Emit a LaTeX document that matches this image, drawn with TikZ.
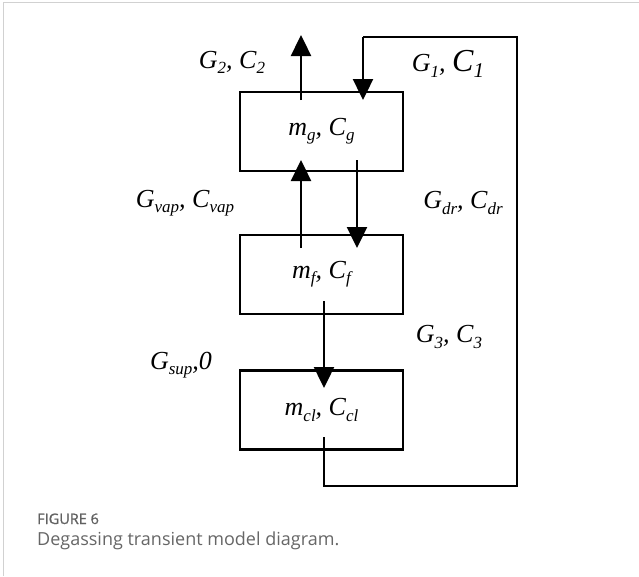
\documentclass[tikz,border=0pt]{standalone}
\usepackage{fontspec}
\setmainfont{Liberation Serif}
\newfontfamily\capfont{Open Sans}
\newfontfamily\capfontb[FakeBold=1.2]{Open Sans}
\usetikzlibrary{arrows.meta}
\newcommand\sbx[1]{\raisebox{-0.2em}{\fontsize{17pt}{17pt}\selectfont #1}}
\newcommand\sbxl[1]{\raisebox{-0.2em}{\fontsize{21pt}{21pt}\selectfont #1}}
\tikzset{
  blk/.style={draw, line width=2.6pt, minimum width=163pt, minimum height=79pt, inner sep=0pt, font=\fontsize{26pt}{26pt}\selectfont\itshape},
  lbl/.style={font=\fontsize{26pt}{26pt}\selectfont\itshape, inner sep=0pt},
  flow/.style={line width=2.4pt, -{Triangle[width=20pt,length=21pt]}},
  pipe/.style={line width=2.4pt},
  frame/.style={draw=black!18, line width=1.5pt}
}
\begin{document}
\begin{tikzpicture}[x=1pt,y=-1pt]
\useasboundingbox (0,0) rectangle (639,576);
\draw[frame] (3.5,576) -- (3.5,2.5) -- (639,2.5);
% boxes
\node[blk] (tb) at (321.5,131.5) {m\sbx{g}, C\sbx{g}};
\node[blk] (mb) at (321.5,274.5) {m\sbx{f}, C\sbx{f}};
\node[blk] (bb) at (321.5,410) {m\sbx{cl}, C\sbx{cl}};
% coordinates
\coordinate (g2s) at (301,100);
\coordinate (g2e) at (301,35);
\coordinate (ls) at (324,437);
\coordinate (l1) at (324,486);
\coordinate (l2) at (517,486);
\coordinate (l3) at (517,37);
\coordinate (l4) at (363,37);
\coordinate (le) at (363,100);
\coordinate (vs) at (301,248);
\coordinate (ve) at (301,160);
\coordinate (ds) at (357,160);
\coordinate (de) at (357,248);
\coordinate (g3s) at (324,301);
\coordinate (g3e) at (324,388);
% connectors
\draw[flow] (g2s) -- (g2e);
\draw[pipe] (ls) -- (l1) -- (l2) -- (l3) -- (l4);
\draw[flow] (l4) -- (le);
\draw[flow] (vs) -- (ve);
\draw[flow] (ds) -- (de);
\draw[flow] (g3s) -- (g3e);
% labels
\node[lbl] (lg2) at (232,62) {G\sbx{2}, C\sbx{2}};
\node[lbl] (lg1) at (448,64) {G\sbx{1}, {\fontsize{32pt}{32pt}\selectfont C}\sbxl{1}};
\node[lbl] (lgv) at (185,203) {G\sbx{vap}, C\sbx{vap}};
\node[lbl] (lgd) at (463,203) {G\sbx{dr}, C\sbx{dr}};
\node[lbl] (lg3) at (449,337) {G\sbx{3}, C\sbx{3}};
\node[lbl] (lgs) at (181,365) {G\sbx{sup},0};
% caption
\node[anchor=base west, inner sep=0pt, text=black!62, font=\capfontb\fontsize{14.5pt}{14.5pt}\selectfont] (fig) at (37,524) {FIGURE 6};
\node[anchor=base west, inner sep=0pt, text=black!60, font=\capfont\fontsize{18pt}{18pt}\selectfont] (cap) at (37,545) {Degassing transient model diagram.};
\end{tikzpicture}
\end{document}
